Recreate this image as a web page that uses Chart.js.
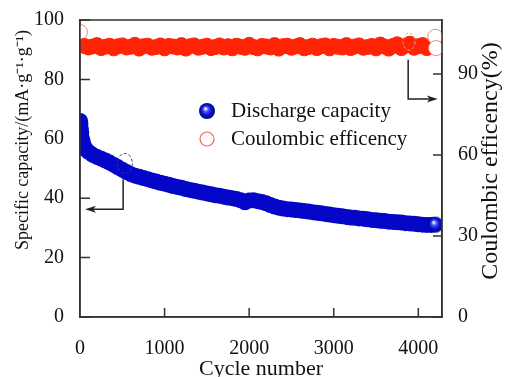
<!DOCTYPE html>
<html>
<head>
<meta charset="utf-8">
<script src="https://cdn.jsdelivr.net/npm/chart.js@4/dist/chart.umd.min.js"></script>
<style>
  body { margin: 0; background: #fff; }
  #c { display: block; }
</style>
</head>
<body>
<canvas id="c" width="506" height="377"></canvas>
<script>
// Discharge capacity (left axis)
const capCycles = [0, 5, 10, 15, 20, 30, 40, 50, 75, 100, 150, 200, 250, 300, 350, 400, 450, 500, 550, 600,
  650, 700, 750, 800, 850, 900, 950, 1000, 1050, 1100, 1150, 1200, 1250, 1300, 1350, 1400, 1450, 1500,
  1550, 1600, 1650, 1700, 1750, 1800, 1850, 1900, 1950, 2000, 2050, 2100, 2150, 2200, 2250, 2300, 2350,
  2400, 2450, 2500, 2550, 2600, 2650, 2700, 2750, 2800, 2850, 2900, 2950, 3000, 3050, 3100, 3150, 3200,
  3250, 3300, 3350, 3400, 3450, 3500, 3550, 3600, 3650, 3700, 3750, 3800, 3850, 3900, 3950, 4000, 4050,
  4100, 4150, 4200];
const capValues = [66, 65, 63.5, 62, 60.5, 59, 58, 57.3, 56.3, 55.6, 54.6, 53.9, 53.3, 52.7, 52.0, 51.2, 50.4, 49.6, 48.8, 48.1,
  47.6, 47.2, 46.8, 46.4, 46.0, 45.6, 45.2, 44.9, 44.5, 44.1, 43.8, 43.5, 43.1, 42.8, 42.5, 42.2, 41.9, 41.6,
  41.3, 41.0, 40.8, 40.5, 40.2, 40.0, 39.7, 39.3, 38.6, 39.2, 39.3, 39.0, 38.7, 38.3, 37.7, 37.2, 36.8,
  36.5, 36.3, 36.2, 36.0, 35.9, 35.7, 35.5, 35.3, 35.1, 34.9, 34.7, 34.5, 34.3, 34.1, 33.9, 33.7, 33.5,
  33.4, 33.2, 33.1, 32.9, 32.7, 32.6, 32.4, 32.3, 32.1, 32.0, 31.9, 31.8, 31.6, 31.5, 31.4, 31.2, 31.1,
  31.0, 31.0, 31.1];

// Coulombic efficiency (right axis)
const effCycles = [0, 50, 100, 150, 200, 250, 300, 350, 400, 450, 500, 550, 600, 650, 700, 750, 800, 850, 900, 950,
  1000, 1050, 1100, 1150, 1200, 1250, 1300, 1350, 1400, 1450, 1500, 1550, 1600, 1650, 1700, 1750, 1800,
  1850, 1900, 1950, 2000, 2050, 2100, 2150, 2200, 2250, 2300, 2350, 2400, 2450, 2500, 2550, 2600, 2650,
  2700, 2750, 2800, 2850, 2900, 2950, 3000, 3050, 3100, 3150, 3200, 3250, 3300, 3350, 3400, 3450, 3500,
  3550, 3600, 3650, 3700, 3750, 3800, 3850, 3900, 3950, 4000, 4050, 4100, 4150, 4200, 4210];
const effValues = [105.5, 100.4, 99.8, 100.2, 100.7, 99.6, 100.1, 100.5, 99.5, 100.3,
  100.6, 99.8, 100.1, 100.8, 99.4, 100.3, 100.5, 99.7, 100.0, 100.6,
  99.5, 100.4, 100.2, 99.8, 100.7, 99.4, 100.3, 100.6, 99.7, 100.1,
  100.5, 99.6, 100.0, 100.6, 99.8, 100.3, 99.5, 100.5, 100.1, 99.7,
  100.8, 100.0, 99.5, 100.4, 100.2, 99.8, 100.7, 99.4, 100.3, 100.5,
  99.7, 100.2, 100.7, 99.5, 100.0, 100.5, 99.6, 100.3, 100.6, 99.5,
  100.4, 100.1, 99.8, 100.7, 99.6, 100.2, 100.6, 99.7, 100.0, 100.4,
  99.5, 100.9, 100.2, 99.4, 100.4, 101.0, 99.6, 100.5, 101.2, 99.7,
  100.3, 100.7, 99.6, 100.4, 103.8, 99.6];

const xTicks = [0, 1000, 2000, 3000, 4000];
const leftTicks = [0, 20, 40, 60, 80, 100];
const rightTicks = [0, 30, 60, 90];

const serif = "'Liberation Serif', 'Times New Roman', serif";
const blue = '#0406c8';
const red = '#ff2405';

// little shaded sphere used for the legend and the last capacity point
function makeSphere(r) {
  const cv = document.createElement('canvas');
  cv.width = cv.height = r * 2 + 2;
  const g = cv.getContext('2d');
  const c = r + 1;
  const grad = g.createRadialGradient(c - r * 0.2, c - r * 0.3, 0.5, c, c, r);
  grad.addColorStop(0, '#ffffff');
  grad.addColorStop(0.25, '#5060ff');
  grad.addColorStop(0.6, '#0a10d0');
  grad.addColorStop(1, '#000880');
  g.fillStyle = grad;
  g.beginPath();
  g.arc(c, c, r, 0, Math.PI * 2);
  g.fill();
  return cv;
}
const sphere = makeSphere(8);

function arrowHead(ctx, x, y, dir) {
  ctx.beginPath();
  ctx.moveTo(x, y);
  ctx.lineTo(x - dir * 11, y - 3.5);
  ctx.lineTo(x - dir * 8, y);
  ctx.lineTo(x - dir * 11, y + 3.5);
  ctx.closePath();
  ctx.fill();
}

const decorations = {
  id: 'decorations',
  beforeDatasetsDraw(chart) {
    const ctx = chart.ctx;
    const { x, y, y1 } = chart.scales;
    ctx.save();
    ctx.strokeStyle = '#333';
    ctx.lineWidth = 1.5;
    ctx.beginPath();
    xTicks.forEach(v => {
      if (v === 0) return;
      const px = x.getPixelForValue(v);
      ctx.moveTo(px, y.bottom);
      ctx.lineTo(px, y.bottom - 9);
    });
    leftTicks.forEach(v => {
      const py = y.getPixelForValue(v);
      ctx.moveTo(x.left, py);
      ctx.lineTo(x.left + 10, py);
    });
    rightTicks.forEach(v => {
      const py = y1.getPixelForValue(v);
      ctx.moveTo(x.right, py);
      ctx.lineTo(x.right - 9, py);
    });
    ctx.stroke();
    ctx.restore();
  },
  afterDatasetsDraw(chart) {
    const ctx = chart.ctx;
    const { x, y, y1 } = chart.scales;
    const area = chart.chartArea;
    ctx.save();

    // frame
    ctx.strokeStyle = '#333';
    ctx.lineWidth = 1.5;
    ctx.strokeRect(area.left, area.top, area.right - area.left, area.bottom - area.top);

    // dashed markers pointing to the axes
    ctx.strokeStyle = '#2a3a8a';
    ctx.lineWidth = 1;
    ctx.setLineDash([3, 2]);
    ctx.beginPath();
    ctx.ellipse(x.getPixelForValue(530), y.getPixelForValue(51.7), 7.5, 10, 0, 0, Math.PI * 2);
    ctx.stroke();
    ctx.strokeStyle = '#f0a090';
    ctx.beginPath();
    ctx.ellipse(x.getPixelForValue(3890), y1.getPixelForValue(102), 6, 8.5, 0, 0, Math.PI * 2);
    ctx.stroke();
    ctx.setLineDash([]);

    ctx.strokeStyle = '#222';
    ctx.fillStyle = '#222';
    ctx.lineWidth = 1.5;
    // left arrow
    let ax = x.getPixelForValue(510), ay1 = y.getPixelForValue(46.3), ay2 = y.getPixelForValue(36.3);
    let tx = x.getPixelForValue(60);
    ctx.beginPath();
    ctx.moveTo(ax, ay1);
    ctx.lineTo(ax, ay2);
    ctx.lineTo(tx + 6, ay2);
    ctx.stroke();
    arrowHead(ctx, tx, ay2, -1);
    // right arrow
    ax = x.getPixelForValue(3880);
    ay1 = y1.getPixelForValue(95.3);
    ay2 = y1.getPixelForValue(80.7);
    tx = x.getPixelForValue(4230);
    ctx.beginPath();
    ctx.moveTo(ax, ay1);
    ctx.lineTo(ax, ay2);
    ctx.lineTo(tx - 6, ay2);
    ctx.stroke();
    arrowHead(ctx, tx, ay2, 1);

    // legend
    const lx = 207, ly1 = 111, ly2 = 139;
    ctx.drawImage(sphere, lx - 9, ly1 - 9);
    ctx.strokeStyle = '#e86a55';
    ctx.lineWidth = 1.2;
    ctx.beginPath();
    ctx.arc(lx, ly2, 7, 0, Math.PI * 2);
    ctx.stroke();
    ctx.fillStyle = '#111';
    ctx.font = '21px ' + serif;
    ctx.textBaseline = 'middle';
    ctx.textAlign = 'left';
    ctx.fillText('Discharge capacity', 231, ly1);
    ctx.fillText('Coulombic efficency', 231, ly2);

    // axis titles
    ctx.textAlign = 'center';
    ctx.textBaseline = 'alphabetic';
    ctx.font = '22px ' + serif;
    ctx.fillText('Cycle number', (area.left + area.right) / 2, 375);

    ctx.textBaseline = 'middle';
    ctx.save();
    ctx.translate(23, 140);
    ctx.rotate(-Math.PI / 2);
    ctx.font = '18px ' + serif;
    ctx.fillText('Specific capacity/(mA·g⁻¹·g⁻¹)', 0, 0);
    ctx.restore();

    ctx.translate(491, 161);
    ctx.rotate(-Math.PI / 2);
    ctx.font = '24px ' + serif;
    ctx.fillText('Coulombic efficency(%)', 0, 0);
    ctx.restore();
  }
};

const lastCap = capValues.length - 1;
const lastEff = effValues.length;

new Chart(document.getElementById('c'), {
  type: 'scatter',
  data: {
    datasets: [
      {
        label: 'Coulombic efficency',
        yAxisID: 'y1',
        data: effCycles.map((c, i) => ({ x: c, y: effValues[i] })),
        pointRadius: 7.5,
        backgroundColor: ctx => (ctx.dataIndex === 0 || ctx.dataIndex >= lastEff - 2) ? '#ffffff' : red,
        borderColor: ctx => (ctx.dataIndex === 0 || ctx.dataIndex >= lastEff - 2) ? '#f08a78' : red,
        borderWidth: 1
      },
      {
        label: 'Discharge capacity',
        yAxisID: 'y',
        data: capCycles.map((c, i) => ({ x: c, y: capValues[i] })),
        pointRadius: 8,
        pointStyle: ctx => ctx.dataIndex === lastCap ? sphere : 'circle',
        backgroundColor: blue,
        borderWidth: 0
      }
    ]
  },
  options: {
    responsive: false,
    devicePixelRatio: 1,
    animation: false,
    events: [],
    layout: { padding: { left: 0, right: 0, top: 17, bottom: 0 } },
    plugins: { legend: { display: false }, tooltip: { enabled: false } },
    scales: {
      x: {
        type: 'linear',
        min: 0,
        max: 4280,
        afterFit: s => { s.height = 60; },
        afterBuildTicks: s => { s.ticks = xTicks.map(v => ({ value: v })); },
        grid: { display: false },
        border: { display: true, color: '#333', width: 1.5 },
        ticks: { padding: 12, color: '#111', font: { family: serif, size: 20 }, callback: v => String(v) }
      },
      y: {
        position: 'left',
        min: 0,
        max: 100,
        afterFit: s => { s.width = 80; },
        afterBuildTicks: s => { s.ticks = leftTicks.map(v => ({ value: v })); },
        grid: { display: false },
        border: { display: true, color: '#333', width: 1.5 },
        ticks: { padding: 8, color: '#111', font: { family: serif, size: 20 }, callback: v => String(v) }
      },
      y1: {
        position: 'right',
        min: 0,
        max: 110,
        afterFit: s => { s.width = 64; },
        afterBuildTicks: s => { s.ticks = rightTicks.map(v => ({ value: v })); },
        grid: { display: false },
        border: { display: true, color: '#333', width: 1.5 },
        ticks: { padding: 8, color: '#111', font: { family: serif, size: 20 }, callback: v => String(v) }
      }
    }
  },
  plugins: [decorations]
});
</script>
</body>
</html>
